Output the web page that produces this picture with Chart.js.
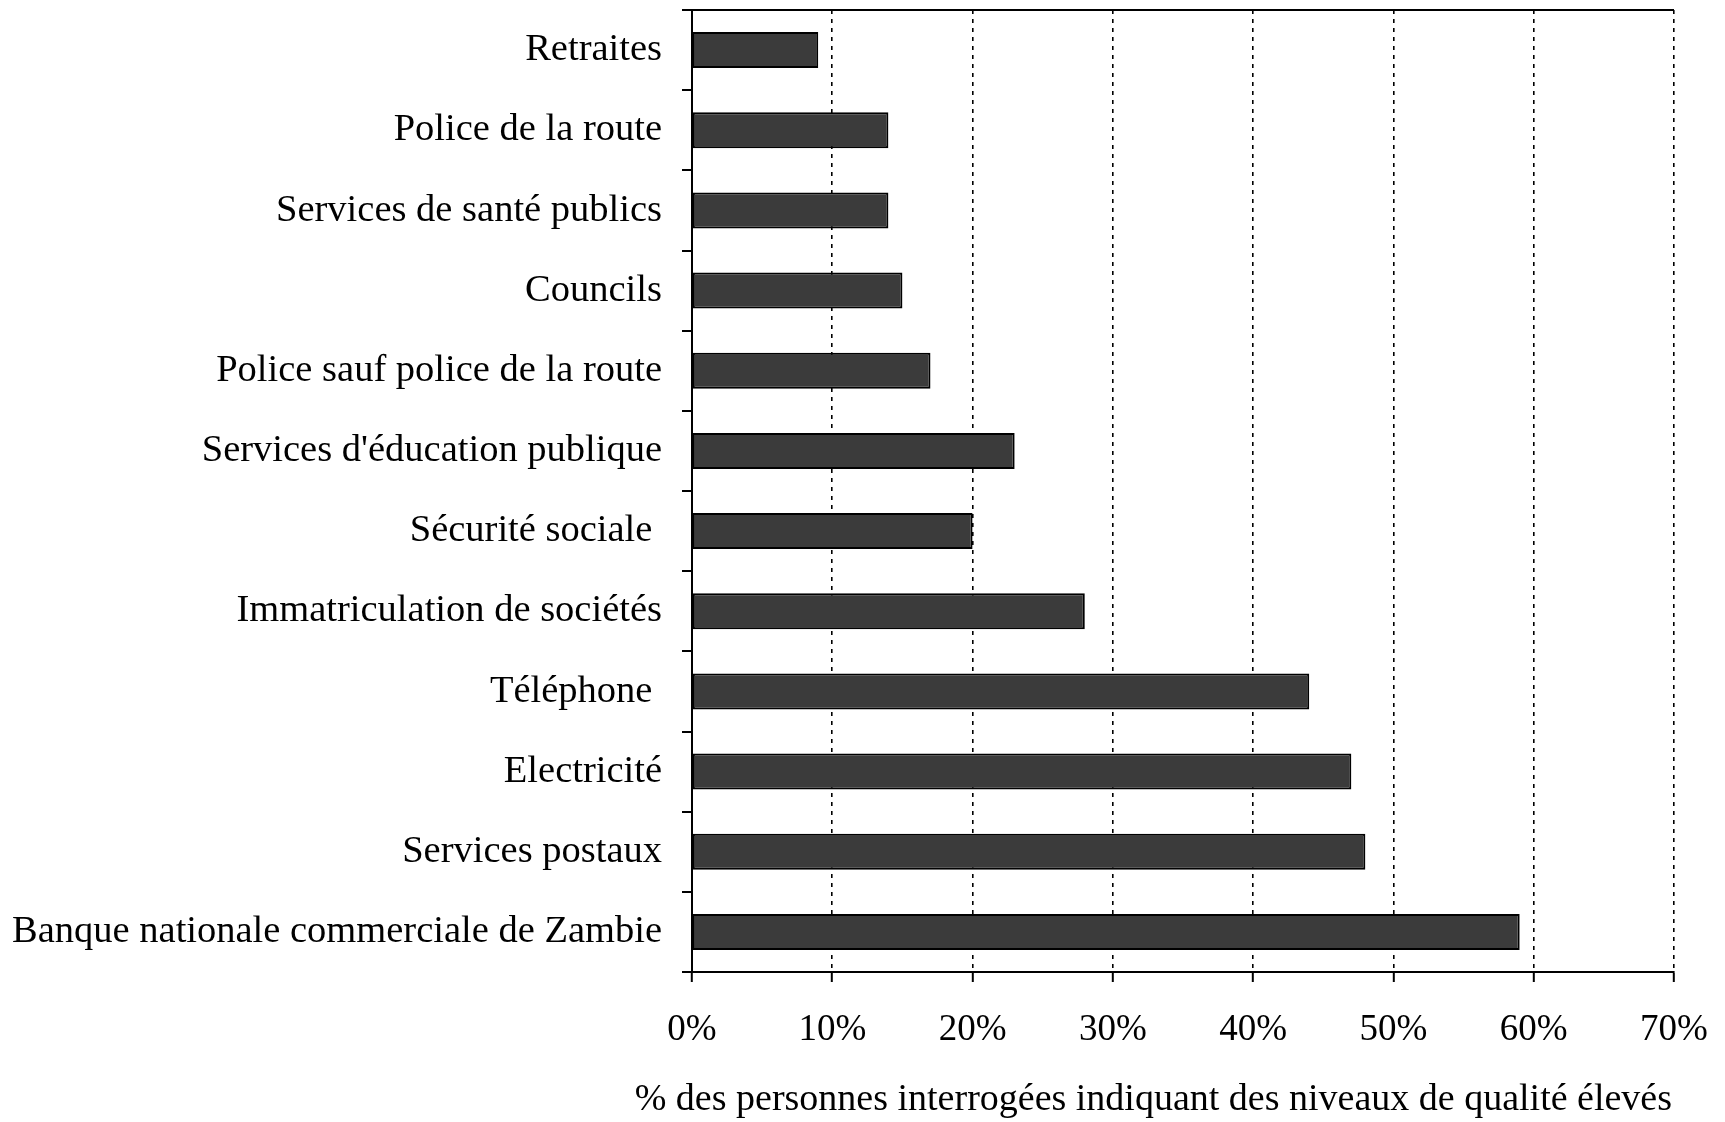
<!DOCTYPE html>
<html>
<head>
<meta charset="utf-8">
<script src="https://cdn.jsdelivr.net/npm/chart.js@4.4.1/dist/chart.umd.min.js"></script>
<style>
  html, body { margin: 0; padding: 0; background: #fff; }
  #wrap { width: 1725px; height: 1122px; }
</style>
</head>
<body>
<div id="wrap"><canvas id="ChartA" width="1725" height="1122"></canvas></div>
<script>
// categories, top to bottom
let services = [
  'Retraites',
  'Police de la route',
  'Services de santé publics',
  'Councils',
  'Police sauf police de la route',
  "Services d'éducation publique",
  'Sécurité sociale ',
  'Immatriculation de sociétés',
  'Téléphone ',
  'Electricité',
  'Services postaux',
  'Banque nationale commerciale de Zambie'
];
// % reporting high quality
let highQuality = [9, 14, 14, 15, 17, 23, 20, 28, 44, 47, 48, 59];
let xTicks = [0, 10, 20, 30, 40, 50, 60, 70];
let xTitle = '% des personnes interrogées indiquant des niveaux de qualité élevés';

let serif = "'Liberation Serif', 'Times New Roman', serif";

// solid line along the top of the plot, and the x title
// (the built-in axis title gets squeezed to the axis width)
let extras = {
  id: 'extras',
  afterDraw: function(chart) {
    let a = chart.chartArea;
    let ctx = chart.ctx;
    ctx.save();
    ctx.strokeStyle = '#000';
    ctx.lineWidth = 2;
    ctx.beginPath();
    ctx.moveTo(a.left, a.top);
    ctx.lineTo(a.right, a.top);
    ctx.stroke();

    ctx.fillStyle = '#000';
    ctx.font = '38px ' + serif;
    ctx.textAlign = 'right';
    ctx.textBaseline = 'middle';
    ctx.fillText(xTitle, a.right - 2, chart.height - 22);
    ctx.restore();
  }
};

function createGraphA()
{
  var ctx = document.getElementById('ChartA').getContext('2d');
  var myChart = new Chart(ctx, {
    type: 'bar',
    data: {
      labels: services,
      datasets: [{
        data: highQuality,
        backgroundColor: '#3b3b3b',
        borderColor: '#000',
        borderWidth: 2,
        borderSkipped: false,
        categoryPercentage: 1,
        barPercentage: 0.45
      }]
    },
    options: {
      indexAxis: 'y',
      responsive: false,
      animation: false,
      layout: { padding: { top: 10, right: 51, left: 0, bottom: 0 } },
      plugins: {
        legend: { display: false },
        tooltip: { enabled: false }
      },
      scales: {
        x: {
          min: 0,
          max: 70,
          afterBuildTicks: function(scale) {
            scale.ticks = xTicks.map(function(v) { return { value: v }; });
          },
          afterFit: function(scale) {
            scale.height = 150;
            scale.paddingLeft = 0;
            scale.paddingRight = 0;
          },
          border: { display: true, color: '#000', width: 2, dash: [4, 5] },
          grid: {
            color: '#000',
            lineWidth: 1.6,
            tickColor: '#000',
            tickWidth: 2,
            tickLength: 10,
            tickBorderDash: []
          },
          ticks: {
            color: '#000',
            padding: 26,
            font: { family: serif, size: 37 },
            callback: function(v) { return v + '%'; }
          }
        },
        y: {
          afterFit: function(scale) {
            scale.width = 692;
            scale.paddingTop = 0;
            scale.paddingBottom = 0;
          },
          border: { display: true, color: '#000', width: 2 },
          grid: {
            offset: true,
            drawOnChartArea: false,
            color: '#000',
            lineWidth: 2,
            tickLength: 10
          },
          ticks: {
            color: '#000',
            padding: 20,
            font: { family: serif, size: 38.5 }
          }
        }
      }
    },
    plugins: [extras]
  });
}

createGraphA();
</script>
</body>
</html>
